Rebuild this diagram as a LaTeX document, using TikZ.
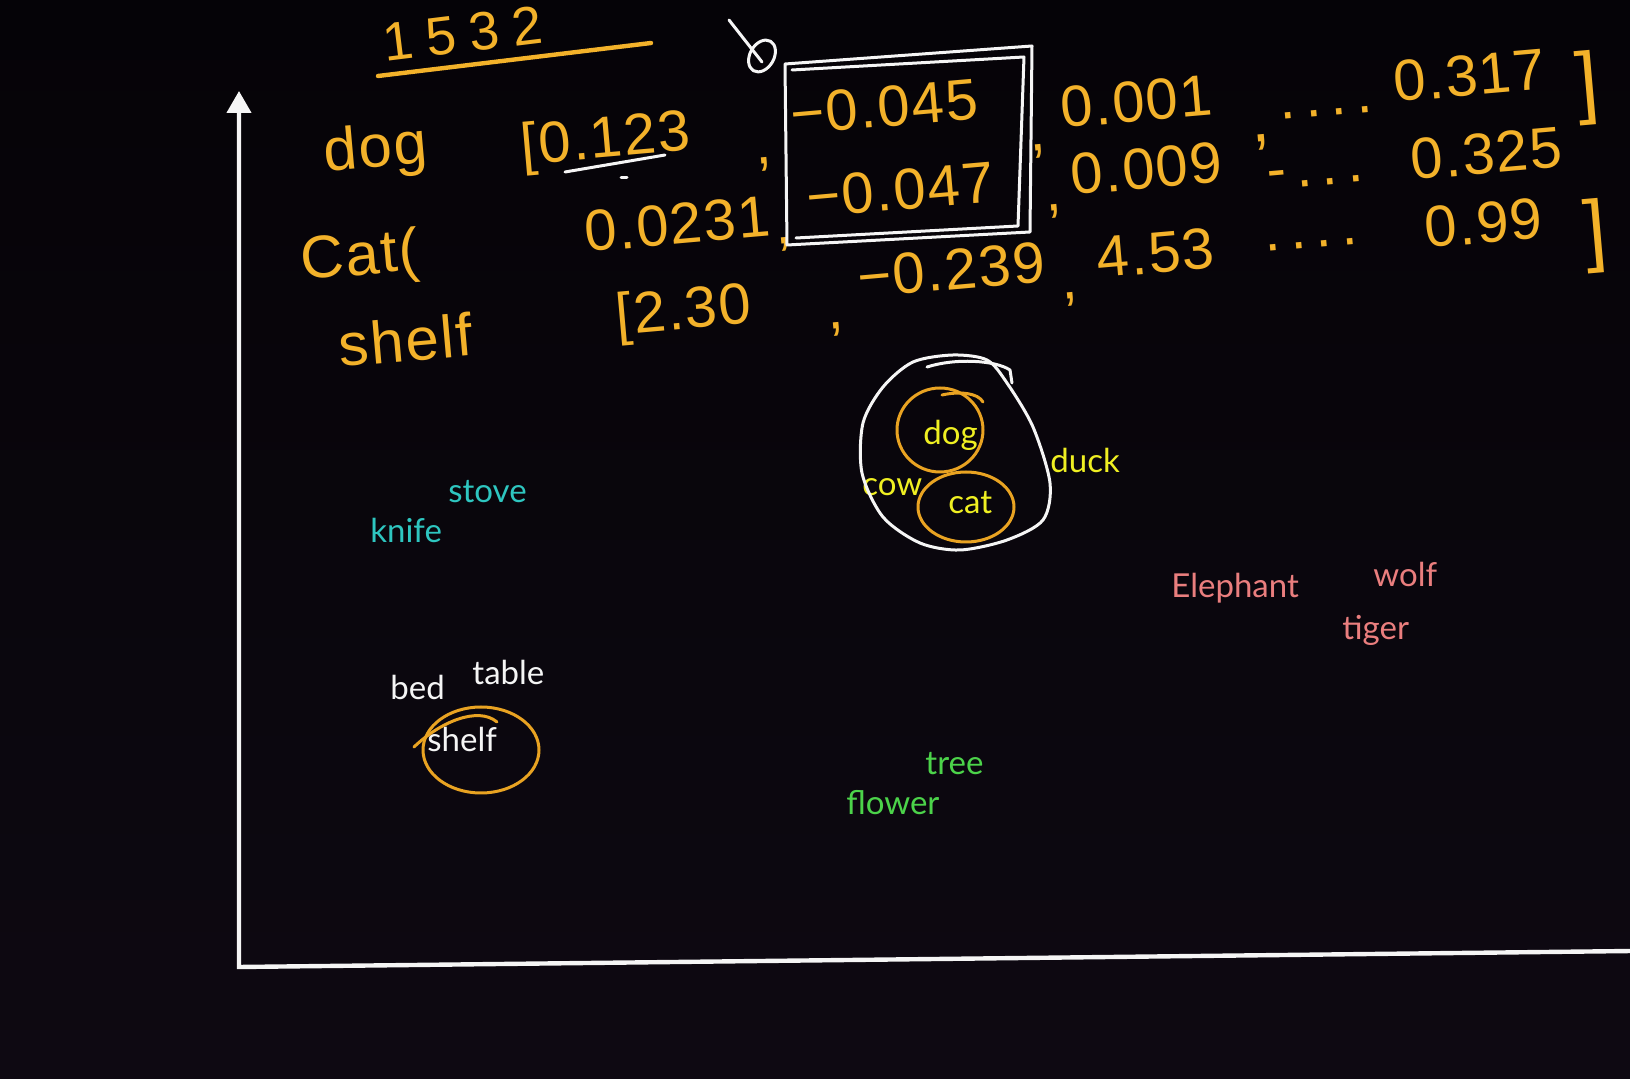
\documentclass[tikz,border=0pt]{standalone}
\usepackage{fontspec}
\setmainfont{Liberation Sans}
\newfontfamily\craiefont[LetterSpace=3]{Liberation Sans}
\newfontfamily\anneefont[LetterSpace=25]{Liberation Sans}
\newfontfamily\typefont{Lato}
\usetikzlibrary{arrows.meta}
\definecolor{fondhaut}{HTML}{050307}
\definecolor{fondbas}{HTML}{0E0912}
\definecolor{craie}{HTML}{F3B22A}
\definecolor{anneau}{HTML}{E9A322}
\definecolor{jaune}{HTML}{EFEF22}
\definecolor{sarcelle}{HTML}{2EC6C0}
\definecolor{saumon}{HTML}{EA7E7E}
\definecolor{herbe}{HTML}{4CD34A}
\definecolor{blanc}{HTML}{F5F5F5}

\begin{document}
\begin{tikzpicture}[x=0.5pt,y=-0.5pt,
  hand/.style={text=craie,font=\craiefont\fontsize{29}{29}\selectfont,anchor=base west,inner sep=0pt,rotate=5},
  word/.style={font=\typefont\fontsize{16.5}{16.5}\selectfont,anchor=base west,inner sep=0pt},
  trait/.style={line width=1.5pt,line cap=round,line join=round}]
\shade[top color=fondhaut,bottom color=fondbas] (0,0) rectangle (1630,1079);
\useasboundingbox (0,0) rectangle (1630,1079);

%axes
\draw[blanc,line width=2.2pt,-{Triangle[width=12pt,length=11pt]}] (1632,951) -- (239,967) -- (239,91);

%en-tete ecrit a la main
\node[hand,font=\anneefont\fontsize{27}{27}\selectfont,rotate=2] (annee) at (385,62) {1532};
\draw[craie,line width=2.2pt,line cap=round] (378,76) -- (651,43);
\node[hand,font=\craiefont\fontsize{30}{30}\selectfont,rotate=0] (hdog) at (325,172) {dog};
\node[hand,font=\craiefont\fontsize{30}{30}\selectfont,rotate=0] (hcat) at (302,280) {Cat(};
\node[hand,font=\craiefont\fontsize{30}{30}\selectfont,rotate=0] (hshelf) at (340,367) {shelf};

%vecteur de dog
\node[hand] (r1a) at (522,165) {[0.123};
\node[hand] (r1b) at (756,165) {,};
\node[hand] (r1c) at (792,135) {−0.045};
\node[hand] (r1d) at (1030,152) {,};
\node[hand] (r1e) at (1062,128) {0.001};
\node[hand,font=\craiefont\fontsize{33}{33}\selectfont] (r1f) at (1252,143) {,};
\node[hand] (r1g) at (1280,120) {.\,.\,.\,.};
\node[hand] (r1h) at (1395,102) {0.317};
\node[hand,font=\craiefont\fontsize{40}{40}\selectfont] (r1i) at (1578,110) {]};
\draw[blanc,trait] (565,172) -- (665,155);
\draw[blanc,trait] (621,178) -- (627,178);

%vecteur de cat
\node[hand] (r2a) at (586,252) {0.0231};
\node[hand] (r2b) at (776,245) {,};
\node[hand] (r2c) at (808,218) {−0.047};
\node[hand] (r2d) at (1046,212) {,};
\node[hand] (r2e) at (1072,195) {0.009};
\node[hand] (r2f) at (1268,190) {-\,.\,.\,.};
\node[hand] (r2g) at (1412,180) {0.325};

%vecteur de shelf
\node[hand] (r3a) at (617,335) {[2.30};
\node[hand] (r3b) at (828,330) {,};
\node[hand] (r3c) at (859,298) {−0.239};
\node[hand] (r3d) at (1062,300) {,};
\node[hand] (r3e) at (1098,278) {4.53};
\node[hand] (r3f) at (1265,252) {.\,.\,.\,.};
\node[hand] (r3g) at (1426,248) {0.99};
\node[hand,font=\craiefont\fontsize{40}{40}\selectfont] (r3h) at (1586,258) {]};

%cadre blanc et petite marque
\draw[blanc,trait] (785,64) -- (1032,46) -- (1030,232) -- (787,245) -- cycle;
\draw[blanc,trait] (792,70) -- (1024,57) -- (1018,226) -- (796,238);
\draw[blanc,trait] (729,20) -- (762,62);
\draw[blanc,trait,rotate around={-30:(762,56)}] (762,56) ellipse [x radius=12,y radius=17];

%mots
\node[word,sarcelle] (stove) at (448,503) {stove};
\node[word,sarcelle] (knife) at (370,543) {knife};
\node[word,blanc] (bed) at (390,700) {bed};
\node[word,blanc] (table) at (472,685) {table};
\node[word,blanc] (shelf) at (427,752) {shelf};
\node[word,jaune] (dog) at (923,445) {dog};
\node[word,jaune] (cow) at (862,496) {cow};
\node[word,jaune] (cat) at (948,514) {cat};
\node[word,jaune] (duck) at (1050,473) {duck};
\node[word,saumon] (elephant) at (1171,598) {Elephant};
\node[word,saumon] (wolf) at (1373,587) {wolf};
\node[word,saumon] (tiger) at (1342,640) {tiger};
\node[word,herbe] (tree) at (925,775) {tree};
\node[word,herbe] (flower) at (846,815) {flower};

%entourages
\draw[blanc,trait] plot[smooth cycle] coordinates {(953,355) (987,360) (1007,383) (1033,427) (1050,483) (1043,520) (1007,540) (960,550) (920,543) (883,517) (862,473) (863,423) (883,387) (913,362)};
\draw[blanc,trait] (927,367) .. controls (955,358) and (995,360) .. (1010,370) -- (1012,383);
\draw[anneau,trait] (940,430) ellipse [x radius=43,y radius=42];
\draw[anneau,trait] (942,395) .. controls (960,391) and (978,393) .. (983,402);
\draw[anneau,trait] (966,507) ellipse [x radius=48,y radius=35];
\draw[anneau,trait] (481,750) ellipse [x radius=58,y radius=43];
\draw[anneau,trait] (414,747) .. controls (440,722) and (478,706) .. (497,722);
\end{tikzpicture}
\end{document}
